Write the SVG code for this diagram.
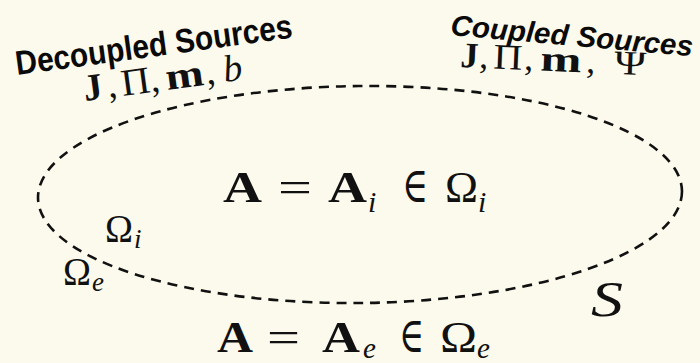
<svg xmlns="http://www.w3.org/2000/svg" width="700" height="363" viewBox="0 0 700 363">
<style>
.m{font-family:"Liberation Serif","DejaVu Serif",serif;fill:#111}
.b{font-weight:bold}
.it{font-style:italic}
.lbl{font-family:"Liberation Sans","Arial",sans-serif;font-weight:bold;fill:#0a0a0a}
</style>
<rect width="700" height="363" fill="#fcfaec"/>
<g id="boundary-S">
<ellipse cx="360" cy="194.5" rx="322" ry="108.5" transform="rotate(-0.6 360 194.5)" fill="none" stroke="#111" stroke-width="2.6" stroke-dasharray="10 7"/>
</g>
<g id="decoupled-sources">
<text class="lbl" x="17" y="75" font-size="34" textLength="279" lengthAdjust="spacingAndGlyphs" transform="rotate(-7.7 17 75)">Decoupled Sources</text>
<g transform="translate(85 101) rotate(-7.7)">
<text class="m b" x="0" y="0" font-size="38">J</text>
<text class="m" x="24" y="0" font-size="38">,</text>
<text class="m" x="38" y="0" font-size="38" textLength="29" lengthAdjust="spacingAndGlyphs">Π</text>
<text class="m" x="67" y="0" font-size="38">,</text>
<text class="m b" x="83" y="0" font-size="38" textLength="38" lengthAdjust="spacingAndGlyphs">m</text>
<text class="m" x="123" y="0" font-size="38">,</text>
<text class="m it" x="141" y="0" font-size="38">b</text>
</g>
</g>
<g id="coupled-sources">
<text class="lbl" x="450" y="35" font-size="29" font-style="italic" textLength="243" lengthAdjust="spacingAndGlyphs" transform="rotate(5 450 35)">Coupled Sources</text>
<g transform="translate(460 67) rotate(2.5)">
<text class="m b" x="0" y="0" font-size="36">J</text>
<text class="m" x="19" y="0" font-size="36">,</text>
<text class="m" x="33" y="0" font-size="36" textLength="29" lengthAdjust="spacingAndGlyphs">Π</text>
<text class="m" x="64" y="0" font-size="36">,</text>
<text class="m b" x="80" y="0" font-size="36" textLength="41" lengthAdjust="spacingAndGlyphs">m</text>
<text class="m" x="126" y="0" font-size="36">,</text>
<text class="m" x="154" y="0" font-size="34" textLength="32" lengthAdjust="spacingAndGlyphs">Ψ</text>
</g>
</g>
<g id="interior-equation">
<text class="m b" x="223" y="202" font-size="44" textLength="39" lengthAdjust="spacingAndGlyphs">A</text>
<text class="m" x="278" y="202" font-size="44" textLength="34" lengthAdjust="spacingAndGlyphs">=</text>
<text class="m b" x="328" y="202" font-size="44" textLength="39" lengthAdjust="spacingAndGlyphs">A</text>
<text class="m it" x="368" y="212" font-size="30">i</text>
<text class="m" x="402" y="202" font-size="50" textLength="26" lengthAdjust="spacingAndGlyphs">∈</text>
<text class="m" x="445" y="202" font-size="44" textLength="33" lengthAdjust="spacingAndGlyphs">Ω</text>
<text class="m it" x="478" y="212" font-size="30">i</text>
</g>
<g id="interior-label">
<text class="m" x="105" y="242" font-size="40" textLength="28" lengthAdjust="spacingAndGlyphs">Ω</text>
<text class="m it" x="134" y="248" font-size="27">i</text>
</g>
<g id="exterior-label">
<text class="m" x="63" y="285" font-size="40" textLength="28" lengthAdjust="spacingAndGlyphs">Ω</text>
<text class="m it" x="92" y="291" font-size="27">e</text>
</g>
<g id="surface-label">
<text class="m it" x="591" y="316" font-size="50" textLength="32" lengthAdjust="spacingAndGlyphs">S</text>
</g>
<g id="exterior-equation">
<text class="m b" x="217" y="352" font-size="44" textLength="36" lengthAdjust="spacingAndGlyphs">A</text>
<text class="m" x="267" y="352" font-size="44" textLength="33" lengthAdjust="spacingAndGlyphs">=</text>
<text class="m b" x="322" y="352" font-size="44" textLength="38" lengthAdjust="spacingAndGlyphs">A</text>
<text class="m it" x="363" y="358" font-size="29">e</text>
<text class="m" x="399" y="352" font-size="50" textLength="25" lengthAdjust="spacingAndGlyphs">∈</text>
<text class="m" x="440" y="352" font-size="44" textLength="37" lengthAdjust="spacingAndGlyphs">Ω</text>
<text class="m it" x="477" y="358" font-size="29">e</text>
</g>
</svg>
